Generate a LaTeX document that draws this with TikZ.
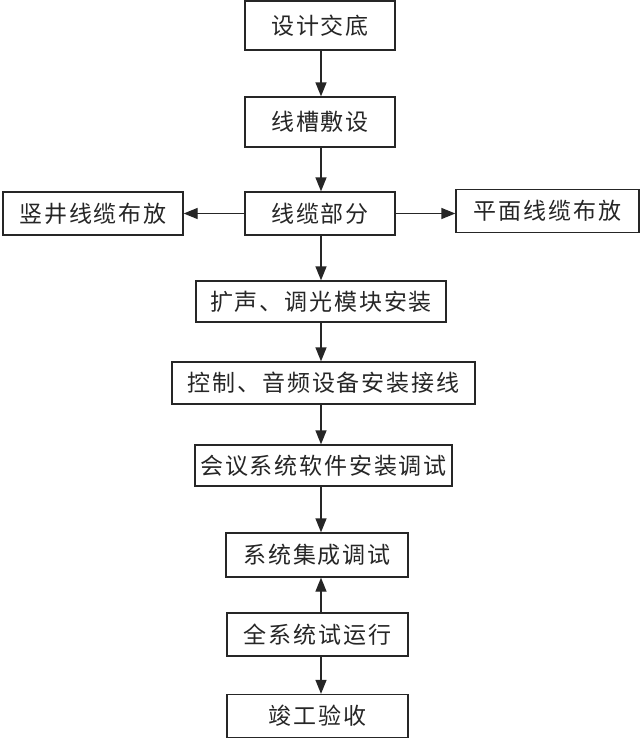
\documentclass[tikz,border=0pt]{standalone}
\usepackage{fontspec}
\setmainfont{Noto Sans CJK SC}[LetterSpace=8]
\usetikzlibrary{arrows.meta}
\begin{document}
\begin{tikzpicture}[x=1pt,y=-1pt,
  box/.style={draw=black!85,line width=1.3pt,inner sep=0pt,font=\fontsize{23}{25}\selectfont,text=black!85},
  arr/.style={draw=black!85,line width=1.3pt,-{Triangle[length=14pt,width=11pt]}}]
\useasboundingbox (0,0) rectangle (640,739);
\fill[white] (0,0) rectangle (640,739);
\node[box,minimum width=150pt,minimum height=49pt] (n1) at (320,25.5) {设计交底};
\node[box,minimum width=150pt,minimum height=50pt] (n2) at (320,122) {线槽敷设};
\node[box,minimum width=150pt,minimum height=43pt] (n3) at (320,213.5) {线缆部分};
\node[box,minimum width=180pt,minimum height=43pt] (nl) at (93,213.5) {竖井线缆布放};
\node[box,minimum width=183pt,minimum height=43pt] (nr) at (547.5,211) {平面线缆布放};
\node[box,minimum width=250pt,minimum height=41pt] (n4) at (321,301.5) {扩声、调光模块安装};
\node[box,minimum width=303pt,minimum height=42pt] (n5) at (323.5,383) {控制、音频设备安装接线};
\node[box,minimum width=257pt,minimum height=41pt] (n6) at (323.5,465.5) {会议系统软件安装调试};
\node[box,minimum width=182pt,minimum height=44pt] (n7) at (317,555) {系统集成调试};
\node[box,minimum width=181pt,minimum height=43pt] (n8) at (317.5,634.5) {全系统试运行};
\node[box,minimum width=181pt,minimum height=43pt] (n9) at (317.5,716) {竣工验收};
\coordinate (col) at (321,0);
\draw[arr] (n1.south -| col) -- (n2.north -| col);
\draw[arr] (n2.south -| col) -- (n3.north -| col);
\draw[arr] (n3.south -| col) -- (n4.north -| col);
\draw[arr] (n4.south -| col) -- (n5.north -| col);
\draw[arr] (n5.south -| col) -- (n6.north -| col);
\draw[arr] (n6.south -| col) -- (n7.north -| col);
\draw[arr] (n8.north -| col) -- (n7.south -| col);
\draw[arr] (n8.south -| col) -- (n9.north -| col);
\draw[arr] (n3.west) -- (nl.east |- n3.west);
\draw[arr] (n3.east) -- (nr.west |- n3.east);
\end{tikzpicture}
\end{document}
